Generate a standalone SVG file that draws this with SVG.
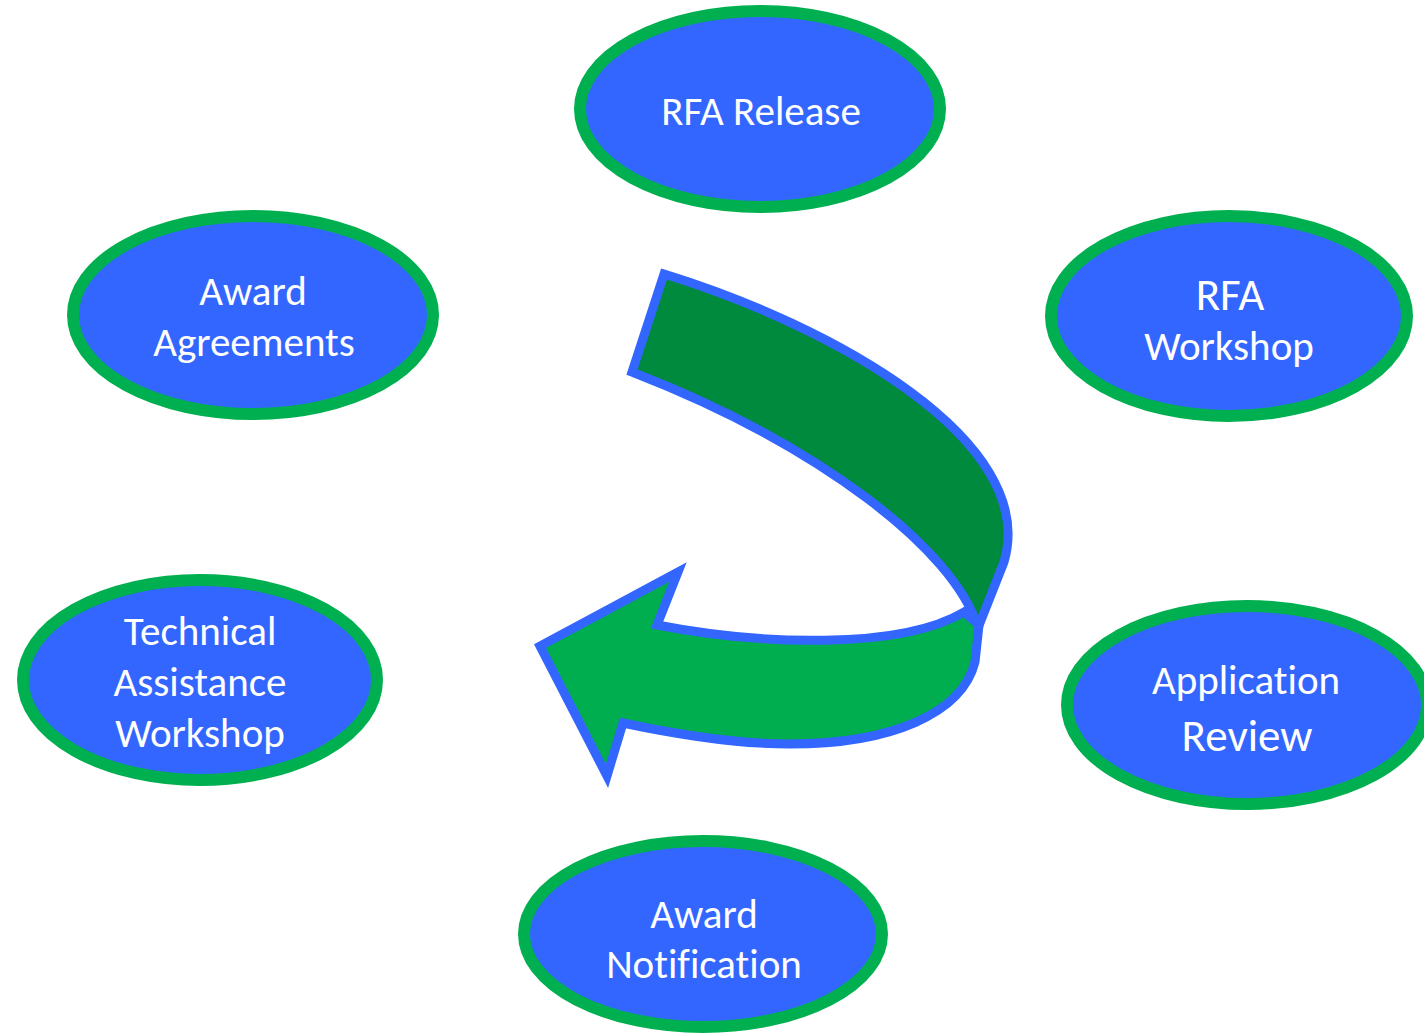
<svg xmlns="http://www.w3.org/2000/svg" width="1424" height="1035" viewBox="0 0 1424 1035">
<style>
.node ellipse{fill:#3366FF;stroke:#00B050;stroke-width:12}
.node text{fill:#FFFFFF;font-family:Carlito,Calibri,Lato,"Liberation Sans",sans-serif;font-size:41px;text-anchor:middle;font-variant-ligatures:none}
.node text.big{font-size:45px}
.arrow path{stroke:#3366FF;stroke-width:9;stroke-linejoin:miter;stroke-miterlimit:10}
</style>
<rect width="1424" height="1035" fill="#FFFFFF"/>
<g id="connectors" class="arrow">
<path id="arrow-back" fill="#008A3E" d="M664,274 C830,325 1040,440 1004,562 L978,628 C955,550 820,445 632,372 Z"/>
<path id="arrow-front" fill="#00AE4F" d="M657,625 C760,645 900,650 964,612 L979,625 L975,662 C962,714 890,744 790,744 C730,744 670,733 623,723 L607,776 L540,646 L678,572 Z"/>
</g>
<g id="node-rfa-release" class="node">
<ellipse cx="760" cy="109" rx="180" ry="98"/>
<text x="761" y="125">RFA Release</text>
</g>
<g id="node-award-agreements" class="node">
<ellipse cx="253" cy="315" rx="180" ry="99"/>
<text x="253" y="305">Award</text>
<text x="254" y="356">Agreements</text>
</g>
<g id="node-rfa-workshop" class="node">
<ellipse cx="1229" cy="316" rx="178" ry="100"/>
<text class="big" x="1230" y="310">RFA</text>
<text x="1229" y="360">Workshop</text>
</g>
<g id="node-technical-assistance-workshop" class="node">
<ellipse cx="200" cy="680" rx="177" ry="100"/>
<text x="200" y="645">Technical</text>
<text x="200" y="696">Assistance</text>
<text x="200" y="747">Workshop</text>
</g>
<g id="node-application-review" class="node">
<ellipse cx="1247" cy="705" rx="180" ry="99"/>
<text x="1246" y="694">Application</text>
<text class="big" x="1247" y="751">Review</text>
</g>
<g id="node-award-notification" class="node">
<ellipse cx="703" cy="934" rx="179" ry="93"/>
<text x="704" y="928">Award</text>
<text x="704" y="978">Notification</text>
</g>
</svg>
